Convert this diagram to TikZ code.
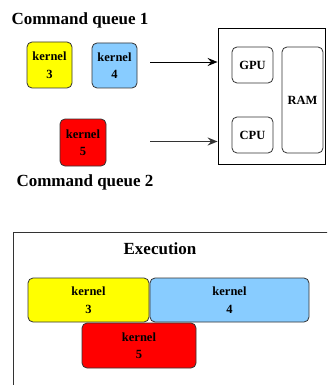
\documentclass[tikz,border=0pt]{standalone}
\usepackage{fontspec}
\setmainfont{Liberation Serif}
\usetikzlibrary{arrows.meta}
\definecolor{kyellow}{HTML}{FFFF00}
\definecolor{kblue}{HTML}{88CCFF}
\definecolor{kred}{HTML}{FF0000}
\definecolor{edge}{HTML}{333333}
\tikzset{
  box/.style={draw=edge, line width=0.8pt, rounded corners=5pt, inner sep=0pt,
    align=center, font=\fontsize{12.5}{17.5}\selectfont\bfseries},
  title/.style={font=\fontsize{17}{19}\selectfont\bfseries, inner sep=0pt},
  feed/.style={line width=0.8pt, -{Stealth[open, length=10pt, width=8pt, line width=2pt, inset=3.5pt]}}
}
\begin{document}
\begin{tikzpicture}[x=1pt, y=-1pt]
  \clip (0,0) rectangle (327,385);
  \fill[white] (0,0) rectangle (327,385);

  % queue titles
  \node[title] (q1) at (80,20) {Command queue 1};
  \node[title] (q2) at (85,182) {Command queue 2};

  % queued kernels
  \node[box, fill=kyellow, minimum width=45pt, minimum height=46pt] (k3) at (49.5,65) {kernel\\3};
  \node[box, fill=kblue,   minimum width=45pt, minimum height=45pt] (k4) at (114.5,65.5) {kernel\\4};
  \node[box, fill=kred,    minimum width=46pt, minimum height=47pt] (k5) at (83,142.5) {kernel\\5};

  % device
  \node[draw=black, line width=0.8pt, minimum width=107.5pt, minimum height=136pt, inner sep=0pt] (host) at (271.75,96) {};
  \node[box, minimum width=41pt, minimum height=36pt] (gpu) at (252.5,65) {GPU};
  \node[box, minimum width=41pt, minimum height=36pt] (cpu) at (252.5,135) {CPU};
  \node[box, minimum width=41pt, minimum height=106pt] (ram) at (302.5,100) {RAM};

  % submissions
  \coordinate (s1) at (150,62);
  \coordinate (s2) at (150,141.5);
  \draw[feed] (s1) -- (s1 -| host.west);
  \draw[feed, draw=edge] (s2) -- (s2 -| host.west);

  % execution timeline
  \node[draw=edge, line width=0.8pt, minimum width=340pt, minimum height=170pt, inner sep=0pt, anchor=north west] (exec) at (13,232) {};
  \node[title] (et) at (160,249) {Execution};
  \node[box, fill=kyellow, minimum width=121pt, minimum height=44pt] (e3) at (88.5,300) {kernel\\3};
  \node[box, fill=kblue,   minimum width=159pt, minimum height=44pt] (e4) at (229.5,300) {kernel\\4};
  \node[box, fill=kred,    minimum width=114pt, minimum height=45pt] (e5) at (139,345.5) {kernel\\5};
\end{tikzpicture}
\end{document}
